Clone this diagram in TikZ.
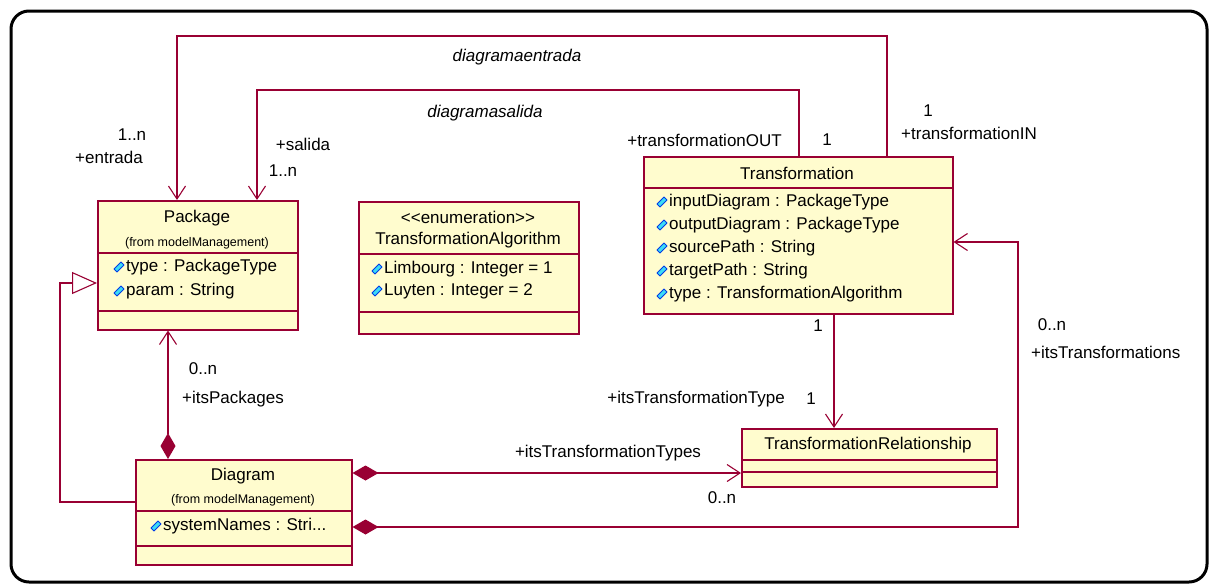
\documentclass[tikz,border=0pt]{standalone}
\usepackage{fontspec}
\setmainfont{Liberation Sans}
\usetikzlibrary{arrows.meta,positioning,shapes.geometric}
\definecolor{rosered}{RGB}{153,0,51}
\definecolor{rosefill}{RGB}{255,252,206}
\definecolor{iconfill}{RGB}{60,220,245}
\definecolor{iconline}{RGB}{0,60,230}
\tikzset{
  umlclass/.style = {draw=rosered, line width=1.5pt, fill=rosefill, rectangle,
                     inner sep=0pt, anchor=north west},
  sepline/.style  = {draw=rosered, line width=1.3pt},
  nav/.style      = {draw=rosered, line width=1.1pt,
                     -{Straight Barb[length=13pt,width=17pt]}},
  comp/.style     = {nav, {Diamond[length=26pt,width=15pt]}-{Straight Barb[length=13pt,width=17pt]}},
  gen/.style      = {draw=rosered, line width=1.1pt,
                     -{Triangle[open,length=25pt,width=22pt]}},
  attricon/.style = {draw=iconline, fill=iconfill, line width=0.9pt, line join=round},
  attr/.style     = {anchor=west, inner sep=0pt},
  lbl/.style      = {inner sep=0pt},
  fromtxt/.style  = {inner sep=0pt, font=\fontsize{12.5}{14}\selectfont},
}

\begin{document}
\begin{tikzpicture}[x=1pt,y=-1pt,font=\fontsize{17}{20}\selectfont]
\useasboundingbox (0,0) rectangle (1217,584);
\draw[line width=3pt,rounded corners=18pt] (11,11) rectangle (1207,582);

% classes
\node[umlclass,minimum width=200pt,minimum height=129pt] (pkg) at (97,200) {};
\draw[sepline] (pkg.west |- 0,253) -- (pkg.east |- 0,253);
\draw[sepline] (pkg.west |- 0,311) -- (pkg.east |- 0,311);
\node[lbl] (pkgname) at (197,218) {Package};
\node[fromtxt] (pkgfrom) at (197,243) {(from modelManagement)};
\foreach \t [count=\i] in {type : PackageType, param : String} {
  \draw[attricon,shift={(119,{243+24*\i})}] (-5,2) -- (2,-5) -- (5,-2) -- (-2,5) -- cycle;
  \node[attr] (pa\i) at (126,{243+24*\i}) {\t};
}

\node[umlclass,minimum width=220pt,minimum height=132pt] (enum) at (358,201) {};
\draw[sepline] (enum.west |- 0,254) -- (enum.east |- 0,254);
\draw[sepline] (enum.west |- 0,312) -- (enum.east |- 0,312);
\node[lbl] (enumst) at (468,217) {<\kern0pt<enumeration>\kern0pt>};
\node[lbl] (enumname) at (468,240) {TransformationAlgorithm};
\foreach \t [count=\i] in {Limbourg : Integer = 1, Luyten : Integer = 2} {
  \draw[attricon,shift={(377,{247+22*\i})}] (-5,2) -- (2,-5) -- (5,-2) -- (-2,5) -- cycle;
  \node[attr] (ea\i) at (384,{247+22*\i}) {\t};
}

\node[umlclass,minimum width=309pt,minimum height=157pt] (trans) at (643,156) {};
\draw[sepline] (trans.west |- 0,188) -- (trans.east |- 0,188);
\node[lbl] (transname) at (797,173) {Transformation};
\foreach \t [count=\i] in {inputDiagram : PackageType, outputDiagram : PackageType,
    sourcePath : String, targetPath : String, type : TransformationAlgorithm} {
  \draw[attricon,shift={(662,{179+23*\i})}] (-5,2) -- (2,-5) -- (5,-2) -- (-2,5) -- cycle;
  \node[attr] (ta\i) at (669,{179+23*\i}) {\t};
}

\node[umlclass,minimum width=255pt,minimum height=58pt] (rel) at (741,428) {};
\draw[sepline] (rel.west |- 0,460) -- (rel.east |- 0,460);
\draw[sepline] (rel.west |- 0,472) -- (rel.east |- 0,472);
\node[lbl] (relname) at (868,445) {TransformationRelationship};

\node[umlclass,minimum width=216pt,minimum height=105pt] (diag) at (135,459) {};
\draw[sepline] (diag.west |- 0,511) -- (diag.east |- 0,511);
\draw[sepline] (diag.west |- 0,546) -- (diag.east |- 0,546);
\node[lbl] (diagname) at (243,476) {Diagram};
\node[fromtxt] (diagfrom) at (243,500) {(from modelManagement)};
\draw[attricon,shift={(156,526)}] (-5,2) -- (2,-5) -- (5,-2) -- (-2,5) -- cycle;
\node[attr] (da1) at (163,526) {systemNames : Stri...};

% associations
\coordinate (inbend) at (177,36);
\coordinate (outbend) at (257,90);
\coordinate (tbend) at (1018,242);
\coordinate (gbend) at (60,283);
\draw[nav] (trans.north -| 887,0) |- (inbend) -- (pkg.north -| inbend);
\draw[nav] (trans.north -| 799,0) |- (outbend) -- (pkg.north -| outbend);
\draw[nav] (trans.south -| 834,0) -- (rel.north -| 834,0);
\draw[comp] (diag.north -| 168,0) -- (pkg.south -| 168,0);
\draw[comp] (diag.east |- 0,473) -- (rel.west |- 0,473);
\draw[comp] (diag.east |- 0,527) -| (tbend) -- (trans.east |- tbend);
\draw[gen] (diag.west |- 0,502) -| (gbend) -- (pkg.west |- gbend);

% role names and multiplicities
\node[lbl,font=\fontsize{17}{20}\selectfont\itshape] (entname) at (517,57) {diagramaentrada};
\node[lbl,font=\fontsize{17}{20}\selectfont\itshape] (salname) at (485,113) {diagramasalida};
\node[lbl] (entmult) at (132,135) {1..n};
\node[lbl] (entrole) at (109,157) {+entrada};
\node[lbl] (salrole) at (303,144) {+salida};
\node[lbl] (salmult) at (283,171) {1..n};
\node[lbl,anchor=east] (outrole) at (782,140) {+transformationOUT};
\node[lbl] (outmult) at (827,140) {1};
\node[lbl] (inmult) at (928,111) {1};
\node[lbl,anchor=west] (inrole) at (901,133) {+transformationIN};
\node[lbl] (typemultA) at (818,326) {1};
\node[lbl,anchor=east] (typerole) at (785,399) {+itsTransformationType};
\node[lbl] (typemultB) at (811,399) {1};
\node[lbl] (typesrole) at (608,453) {+itsTransformationTypes};
\node[lbl] (typesmult) at (722,498) {0..n};
\node[lbl] (trmult) at (1052,325) {0..n};
\node[lbl,anchor=west] (trrole) at (1031,352) {+itsTransformations};
\node[lbl] (pkmult) at (203,369) {0..n};
\node[lbl,anchor=west] (pkrole) at (182,399) {+itsPackages};
\end{tikzpicture}
\end{document}
